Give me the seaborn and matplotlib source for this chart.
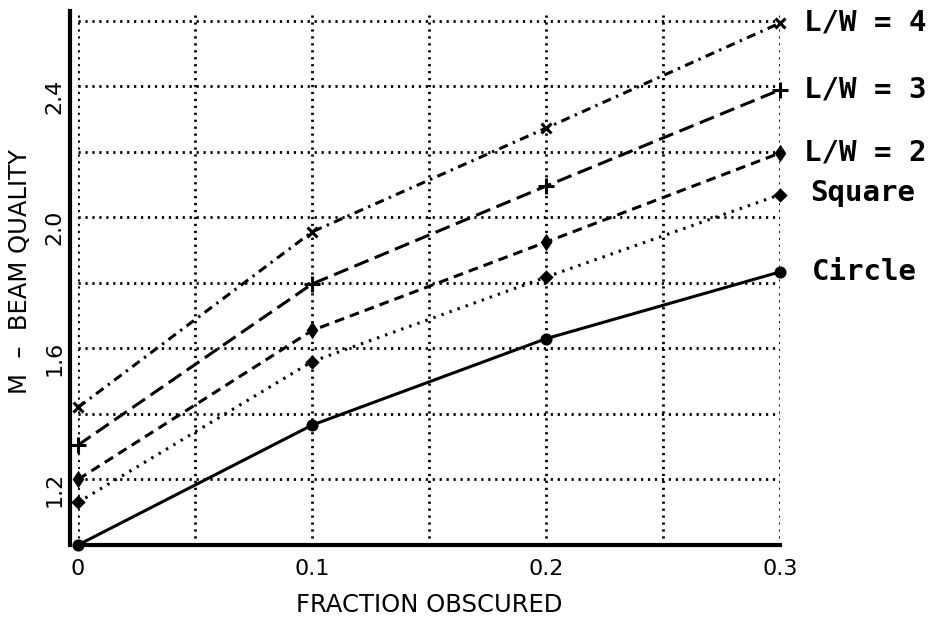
import pandas as pd
import numpy as np
import seaborn as sns
import matplotlib.pyplot as plt

# values
fraction = [0.0, 0.1, 0.2, 0.3]
circle = [1.00, 1.366, 1.63, 1.834]
square = [1.13, 1.56, 1.818, 2.07]
lw2 = [1.20, 1.655, 1.925, 2.197]
lw3 = [1.305, 1.797, 2.096, 2.39]
lw4 = [1.42, 1.956, 2.273, 2.594]
names = ['Circle', 'Square', 'L/W = 2', 'L/W = 3', 'L/W = 4']
x_ticks = [0, 0.1, 0.2, 0.3]
x_tick_labels = ['0', '0.1', '0.2', '0.3']
y_ticks = [1.2, 1.6, 2.0, 2.4]
y_tick_labels = ['1.2', '1.6', '2.0', '2.4']

sns.set_style('white')
plt.rcParams['font.family'] = ['DejaVu Sans']
plt.rcParams['text.color'] = 'black'
plt.rcParams['axes.labelcolor'] = 'black'
plt.rcParams['xtick.color'] = 'black'
plt.rcParams['ytick.color'] = 'black'

df = pd.DataFrame({'fraction': fraction * 5,
                   'quality': circle + square + lw2 + lw3 + lw4,
                   'shape': np.repeat(names, len(fraction))})

# per series look: linestyle, marker, marker size, label offset (px)
looks = {
    'Circle':  ('-', 'o', 6.5, (32, 0)),
    'Square':  ((0, (0.8, 2.0)), 'D', 5, (30, 2)),
    'L/W = 2': ((0, (3.2, 2.0)), 'd', 6, (24, 0)),
    'L/W = 3': ((0, (5, 2.2)), '+', 11, (24, 0)),
    'L/W = 4': ((0, (3, 1.8, 0.8, 1.8)), 'x', 7, (24, 0)),
}

fig = plt.figure(figsize=(9.4, 6.2), dpi=100)
ax = fig.add_axes([0.083, 0.121, 0.747, 0.861])

for name in names:
    ls, mk, ms, off = looks[name]
    sub = df[df['shape'] == name]
    sns.lineplot(data=sub, x='fraction', y='quality', ax=ax, color='black',
                 linestyle=ls, lw=2.2, marker=mk, markersize=ms,
                 markeredgecolor='black', markerfacecolor='black',
                 markeredgewidth=2.2, clip_on=False, zorder=3)
    ax.annotate(name, xy=(sub['fraction'].iloc[-1], sub['quality'].iloc[-1]),
                xytext=off, textcoords='offset pixels', ha='left', va='center',
                fontsize=21, fontweight='bold', family='DejaVu Sans Mono')

ax.set_xlim(0, 0.3)
ax.set_ylim(1.0, 2.63)
ax.set_xticks(x_ticks)
ax.set_xticklabels(x_tick_labels)
ax.set_xticks([0.05, 0.15, 0.25], minor=True)
ax.set_yticks(y_ticks)
ax.set_yticklabels(y_tick_labels)
ax.set_yticks([1.4, 1.8, 2.2, 2.6], minor=True)

ax.grid(True, which='both', color='black', lw=2, linestyle=(0, (0.8, 1.7)))
ax.tick_params(axis='both', which='both', length=0, labelsize=16)
ax.tick_params(axis='y', labelrotation=90, pad=4)
ax.tick_params(axis='x', pad=10)

for side in ['top', 'right']:
    ax.spines[side].set_visible(False)
for side in ['left', 'bottom']:
    ax.spines[side].set_color('black')
    ax.spines[side].set_linewidth(3)
ax.spines['left'].set_position(('outward', 6))

ax.set_xlabel('FRACTION OBSCURED', fontsize=17.5)
ax.set_ylabel('M  \u2013  BEAM QUALITY', fontsize=17.5)
ax.xaxis.set_label_coords(0.5, -0.09)
ax.yaxis.set_label_coords(-0.066, 0.513)

plt.savefig('out.png', dpi=100)
